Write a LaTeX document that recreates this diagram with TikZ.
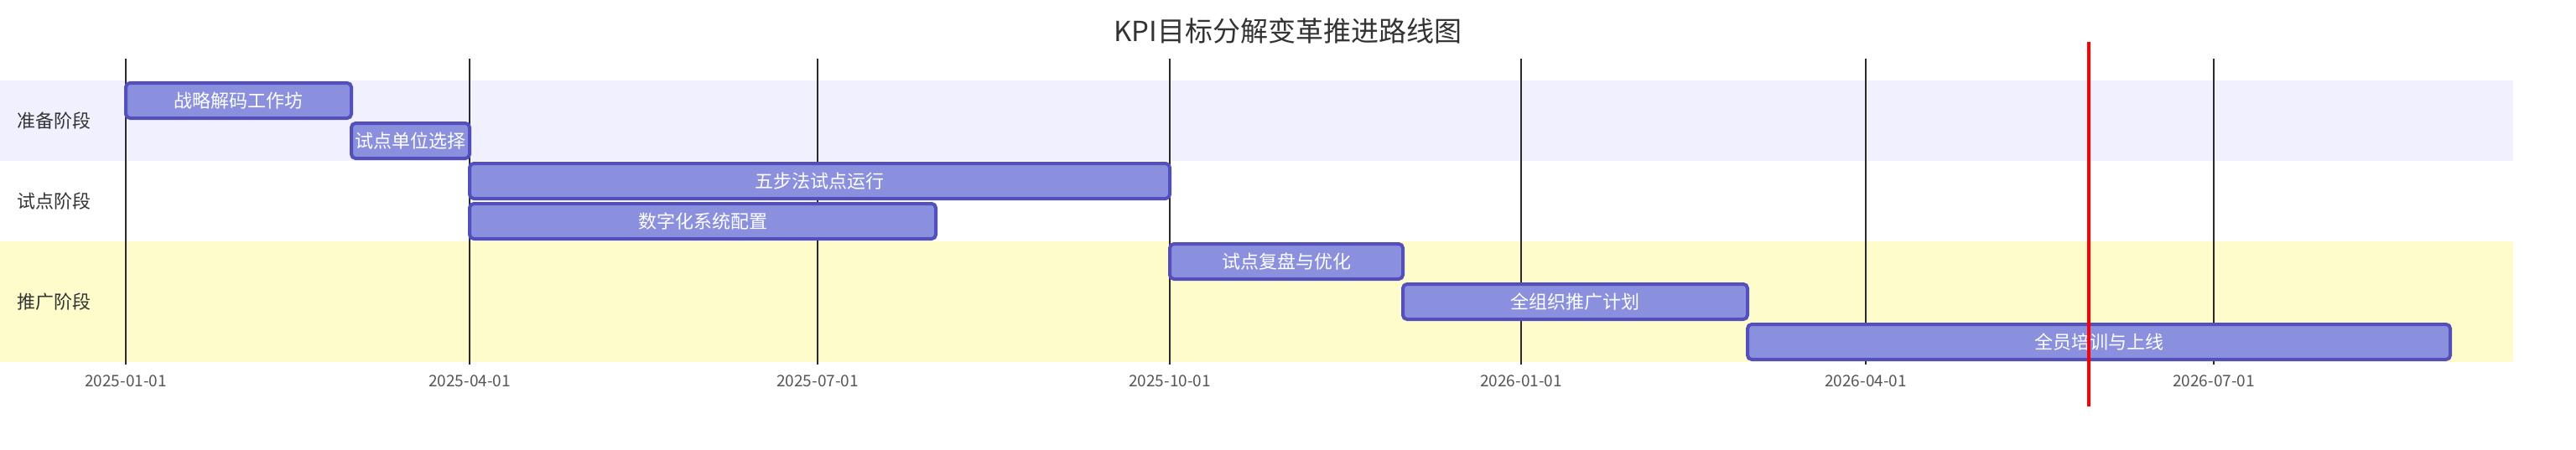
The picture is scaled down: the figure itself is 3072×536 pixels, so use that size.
\documentclass[tikz,border=0pt]{standalone}
\usepackage{fontspec}
\setmainfont{Noto Sans CJK SC}
\definecolor{barfill}{HTML}{8A90DD}
\definecolor{barline}{HTML}{534FBC}
\definecolor{bandprep}{HTML}{F0F0FF}
\definecolor{bandroll}{HTML}{FFFCCC}
\definecolor{gridc}{HTML}{2A2A2A}
\definecolor{tickc}{HTML}{555555}
\definecolor{textc}{HTML}{333333}
\tikzset{
  bar/.style={draw=barline, fill=barfill, line width=4pt, rounded corners=5pt,
    inner sep=0pt, minimum height=42pt, text=white, font=\fontsize{22}{26}\selectfont},
  gridline/.style={draw=gridc, line width=2pt},
  ticklabel/.style={text=tickc, inner sep=0pt, font=\fontsize{19}{22}\selectfont},
  phase/.style={anchor=west, text=textc, inner sep=0pt, font=\fontsize{22}{26}\selectfont},
  todayline/.style={draw=red, line width=4pt}
}

\begin{document}
\begin{tikzpicture}[x=1pt, y=-1pt]
\useasboundingbox (0, 0) rectangle (3072, 536);

% section bands
\fill[bandprep] (0, 96) rectangle (2997, 192);
\fill[white] (0, 192) rectangle (2997, 288);
\fill[bandroll] (0, 288) rectangle (2997, 432);

% title
\node[text=textc, font=\fontsize{33}{38}\selectfont] (title) at (1536, 37) {KPI目标分解变革推进路线图};

% grid lines and dates
\draw[gridline] (150, 70) -- (150, 435);
\draw[gridline] (560, 70) -- (560, 435);
\draw[gridline] (975, 70) -- (975, 435);
\draw[gridline] (1395, 70) -- (1395, 435);
\draw[gridline] (1814, 70) -- (1814, 435);
\draw[gridline] (2225, 70) -- (2225, 435);
\draw[gridline] (2640, 70) -- (2640, 435);

\node[ticklabel] (d1) at (150, 455) {2025-01-01};
\node[ticklabel] (d2) at (560, 455) {2025-04-01};
\node[ticklabel] (d3) at (975, 455) {2025-07-01};
\node[ticklabel] (d4) at (1395, 455) {2025-10-01};
\node[ticklabel] (d5) at (1814, 455) {2026-01-01};
\node[ticklabel] (d6) at (2225, 455) {2026-04-01};
\node[ticklabel] (d7) at (2640, 455) {2026-07-01};

% section names
\node[phase] (prep) at (20, 144) {准备阶段};
\node[phase] (pilot) at (20, 240) {试点阶段};
\node[phase] (roll) at (20, 360) {推广阶段};

% tasks
\node[bar, minimum width=269pt] (workshop) at (284.5, 120) {战略解码工作坊};
\node[bar, minimum width=141pt] (select) at (489.5, 168) {试点单位选择};
\node[bar, minimum width=835pt] (fivestep) at (977.5, 216) {五步法试点运行};
\node[bar, minimum width=556pt] (digital) at (838, 264) {数字化系统配置};
\node[bar, minimum width=278pt] (review) at (1534, 312) {试点复盘与优化};
\node[bar, minimum width=411pt] (plan) at (1878.5, 360) {全组织推广计划};
\node[bar, minimum width=838pt] (training) at (2503, 408) {全员培训与上线};

% today marker
\draw[todayline] (2491, 50) -- (2491, 485);

\end{tikzpicture}
\end{document}
